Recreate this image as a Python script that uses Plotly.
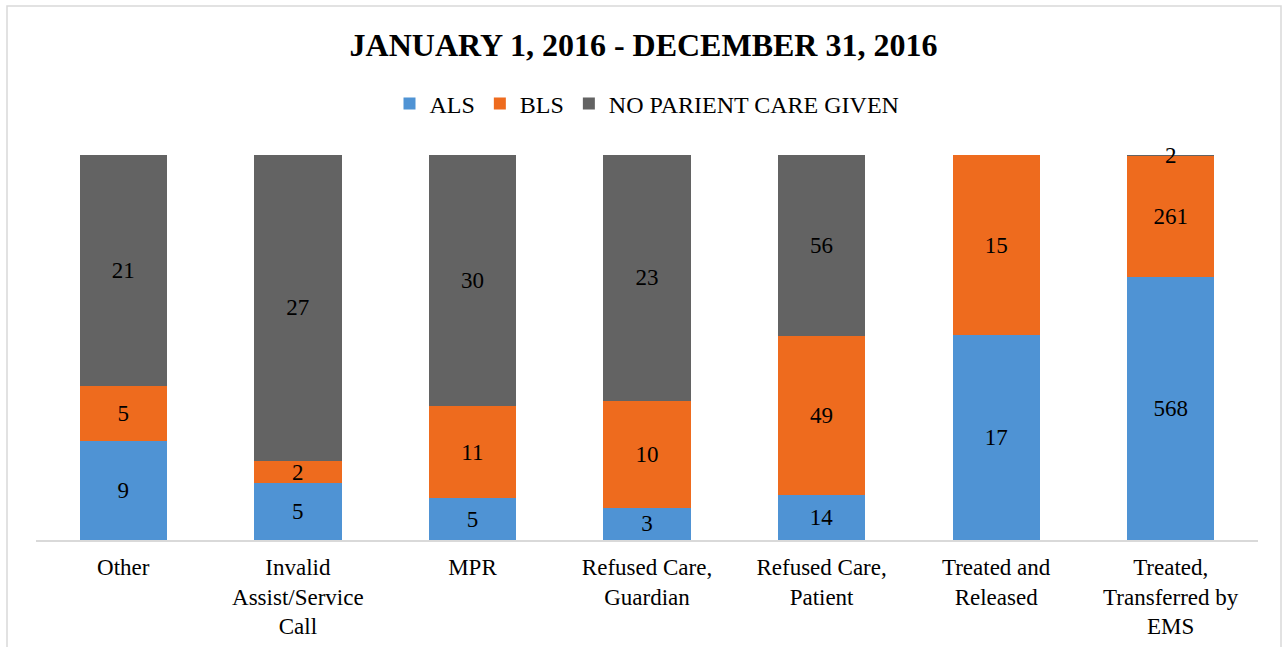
import plotly.graph_objects as go

categories = ["Other", "Invalid<br>Assist/Service<br>Call", "MPR", "Refused Care,<br>Guardian",
              "Refused Care,<br>Patient", "Treated and<br>Released", "Treated,<br>Transferred by<br>EMS"]
als = [9, 5, 5, 3, 14, 17, 568]
bls = [5, 2, 11, 10, 49, 15, 261]
no_care = [21, 27, 30, 23, 56, 0, 2]

series = [
    ("ALS", als, "#4F93D4"),
    ("BLS", bls, "#EE6B1E"),
    ("NO PARIENT CARE GIVEN", no_care, "#636363"),
]

FONT = "Liberation Serif"
fig = go.Figure()
for name, vals, color in series:
    fig.add_trace(go.Bar(
        name=name, x=categories, y=vals,
        marker=dict(color=color, line=dict(width=0)),
        text=[str(v) if v else "" for v in vals],
        textposition="inside", insidetextanchor="middle", textangle=0,
        constraintext="none", cliponaxis=False,
        textfont=dict(family=FONT, size=23, color="black"),
        hoverinfo="name+y",
    ))

L, R, T, B = 36, 29, 155, 107
W, H = 1287, 647
pw, ph = W - L - R, H - T - B

fig.update_layout(
    width=W, height=H,
    barmode="stack", barnorm="percent", bargap=0.5,
    margin=dict(l=L, r=R, t=T, b=B),
    paper_bgcolor="white", plot_bgcolor="white",
    font=dict(family=FONT, size=23, color="black"),
    title=dict(text="<b>JANUARY 1, 2016 - DECEMBER 31, 2016</b>",
               x=0.5, xanchor="center", y=1 - 45 / H, yanchor="middle",
               font=dict(family=FONT, size=32, color="black")),
    legend=dict(orientation="h", x=0.5, xanchor="center",
                y=(H - B - 104) / ph, yanchor="middle",
                font=dict(family=FONT, size=24, color="black"),
                traceorder="normal", itemwidth=30),
    xaxis=dict(showline=True, linecolor="#D9D9D9", linewidth=2,
               ticks="", showgrid=False, tickfont=dict(family=FONT, size=23),
               ticklabelstandoff=5, automargin=False),
    yaxis=dict(visible=False, range=[0, 100.001], showgrid=False, automargin=False),
    showlegend=True,
)

fig.add_shape(type="rect", xref="paper", yref="paper",
              x0=(7 - L) / pw, x1=(1281 - L) / pw,
              y0=(H - B - 660) / ph, y1=(H - B - 6) / ph,
              line=dict(color="#D9D9D9", width=1.5), fillcolor="rgba(0,0,0,0)", layer="below")

fig.write_html("out.html", config={"displayModeBar": False},
               post_script="document.body.style.margin='0px';")
